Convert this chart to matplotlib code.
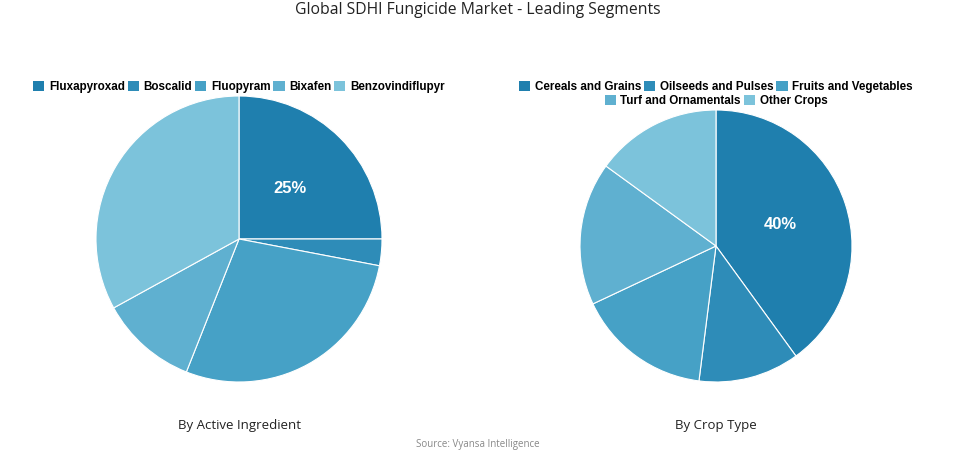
import matplotlib
matplotlib.use("Agg")
import matplotlib.pyplot as plt
from matplotlib.patches import Patch
import numpy as np

ingredients = ["Fluxapyroxad", "Boscalid", "Fluopyram", "Bixafen", "Benzovindiflupyr"]
ingredient_share = [25, 3, 28, 11, 33]
crops = ["Cereals and Grains", "Oilseeds and Pulses", "Fruits and Vegetables",
         "Turf and Ornamentals", "Other Crops"]
crop_share = [40, 12, 16, 17, 15]
colors = ["#1f7fae", "#2e8cb8", "#46a1c6", "#5fb0d0", "#7cc3db"]

W, H = 955, 454
fig = plt.figure(figsize=(W / 100, H / 100), dpi=100)
fig.patch.set_facecolor("white")

leg_kw = dict(loc="center", frameon=False, handlelength=0.95, handleheight=0.95,
              handletextpad=0.4, columnspacing=0.25, borderpad=0, borderaxespad=0,
              prop=dict(family="Liberation Sans", weight="bold", size=8.4))


def add_legend(cx, y, idx, labels):
    handles = [Patch(facecolor=colors[i], edgecolor="none") for i in idx]
    fig.legend(handles, [labels[i] for i in idx], bbox_to_anchor=(cx / W, 1 - y / H),
               ncol=len(idx), **leg_kw)


def draw(cx, cy, r, values, labels, subtitle):
    ax = fig.add_axes([(cx - r) / W, (H - cy - r) / H, 2 * r / W, 2 * r / H])
    ax.pie(values, colors=colors, startangle=90, counterclock=False,
           radius=1, wedgeprops=dict(edgecolor="white", linewidth=0.8))
    ax.set_xlim(-1, 1)
    ax.set_ylim(-1, 1)
    ax.set_aspect("equal")
    ax.axis("off")
    total = sum(values)
    mid = 90 - 360 * (values[0] / 2) / total
    ax.text(0.5 * np.cos(np.radians(mid)), 0.5 * np.sin(np.radians(mid)),
            f"{round(values[0] / total * 100)}%", ha="center", va="center",
            color="white", fontsize=12, fontweight="bold", family="Liberation Sans")
    fig.text(cx / W, 1 - 425 / H, subtitle, ha="center", va="center",
             fontsize=9.5, family="Open Sans", color="#222222")


draw(239, 239, 143, ingredient_share, ingredients, "By Active Ingredient")
add_legend(239, 87, [0, 1, 2, 3, 4], ingredients)

draw(716, 246, 136, crop_share, crops, "By Crop Type")
add_legend(716, 87, [0, 1, 2], crops)
add_legend(716, 101, [3, 4], crops)

fig.text(0.5, 1 - 10 / H, "Global SDHI Fungicide Market - Leading Segments",
         ha="center", va="center", fontsize=11.3, family="Open Sans", color="#222222")
fig.text(0.5, 1 - 444 / H, "Source: Vyansa Intelligence", ha="center", va="center",
         fontsize=7, family="Open Sans", color="#888888")

fig.savefig("out.png", dpi=100, facecolor="white")
